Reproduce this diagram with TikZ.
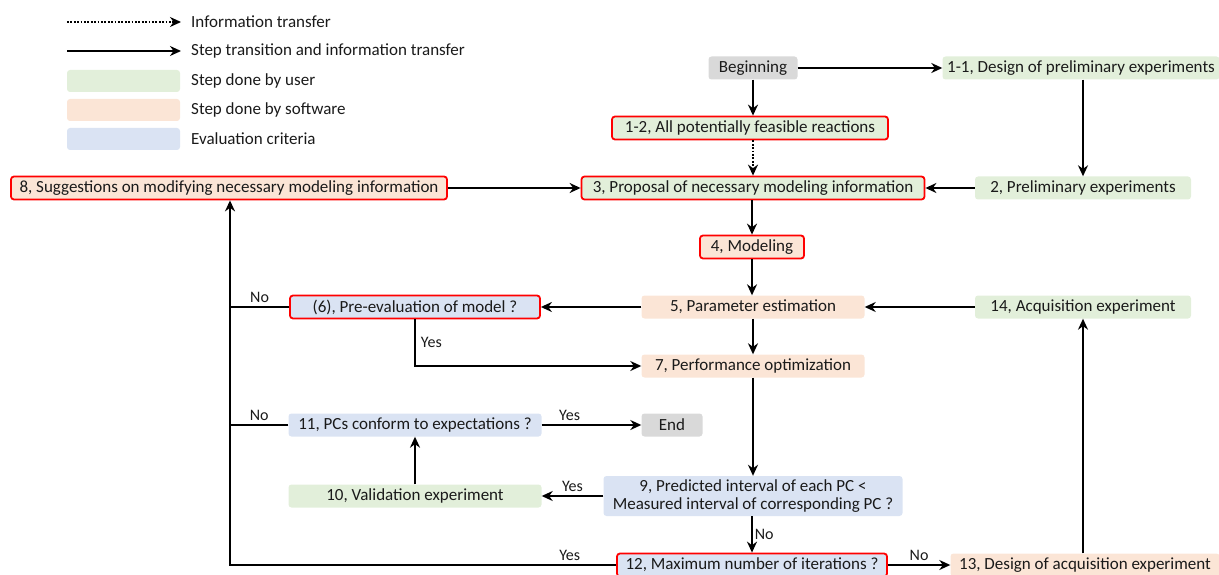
\documentclass[tikz,border=0pt]{standalone}
\usepackage{fontspec}
\setmainfont{Carlito}
\usetikzlibrary{arrows.meta}

\definecolor{usergreen}{HTML}{E2EFDA}
\definecolor{softorange}{HTML}{FBE5D6}
\definecolor{evalblue}{HTML}{DAE3F3}
\definecolor{termgray}{HTML}{D9D9D9}
\definecolor{keyred}{HTML}{FF0000}
\definecolor{inkdark}{HTML}{1A1A1A}

\tikzset{
  box/.style={rounded corners=3pt, minimum height=23pt, inner sep=2pt,
    font=\fontsize{17}{19}\selectfont, align=center, text=inkdark},
  user/.style={box, fill=usergreen},
  soft/.style={box, fill=softorange},
  crit/.style={box, fill=evalblue},
  term/.style={box, fill=termgray},
  key/.style={draw=keyred, line width=1.8pt},
  arr/.style={line width=1.8pt, -{Stealth[length=11pt,width=10pt]}},
  info/.style={arr, dash pattern=on 1.8pt off 1.6pt},
  plain/.style={line width=1.8pt},
  lbl/.style={font=\fontsize{16}{18}\selectfont, inner sep=2pt, text=inkdark},
  legtext/.style={anchor=west, font=\fontsize{17}{19}\selectfont, inner sep=0pt, text=inkdark}
}

\begin{document}
\begin{tikzpicture}[x=1pt, y=-1pt]
    \useasboundingbox (0,0) rectangle (1219,575);

    % legend
    \coordinate (l1a) at (67,22);
    \coordinate (l1b) at (181,22);
    \coordinate (l2a) at (67,51);
    \coordinate (l2b) at (181,51);
    \draw[info] (l1a) -- (l1b);
    \draw[arr] (l2a) -- (l2b);
    \node[legtext] (t1) at (191,22) {Information transfer};
    \node[legtext] (t2) at (191,51) {Step transition and information transfer};
    \node[user, minimum width=113pt, minimum height=22pt] (s1) at (123.5,81) {};
    \node[soft, minimum width=113pt, minimum height=22pt] (s2) at (123.5,110) {};
    \node[crit, minimum width=113pt, minimum height=22pt] (s3) at (123.5,139) {};
    \node[legtext] (t3) at (191,81) {Step done by user};
    \node[legtext] (t4) at (191,110) {Step done by software};
    \node[legtext] (t5) at (191,139) {Evaluation criteria};

    % steps
    \node[term, minimum width=89pt] (begin) at (753,68) {Beginning};
    \node[user, minimum width=277pt] (d11) at (1081,68) {1-1, Design of preliminary experiments};
    \node[user, key, minimum width=276pt] (feas) at (750,128) {1-2, All potentially feasible reactions};
    \node[user, key, minimum width=343pt] (prop) at (753,188) {3, Proposal of necessary modeling information};
    \node[user, minimum width=216pt] (prelim) at (1083,188) {2, Preliminary experiments};
    \node[soft, key, minimum width=436pt] (sugg) at (229,188) {8, Suggestions on modifying necessary modeling information};
    \node[soft, key, minimum width=104pt] (model) at (752,247) {4, Modeling};
    \node[soft, minimum width=223pt] (param) at (753,307) {5, Parameter estimation};
    \node[user, minimum width=216pt] (acq) at (1083,307) {14, Acquisition experiment};
    \node[crit, key, minimum width=250pt] (preeval) at (415,307) {(6), Pre-evaluation of model ?};
    \node[soft, minimum width=223pt] (perf) at (753,366) {7, Performance optimization};
    \node[crit, minimum width=253pt] (pcs) at (415,425) {11, PCs conform to expectations ?};
    \node[term, minimum width=61pt] (endn) at (672,425) {End};
    \node[user, minimum width=253pt] (valid) at (415,496) {10, Validation experiment};
    \node[crit, minimum width=299pt, minimum height=40pt, inner sep=1pt] (pic) at (753,496)
        {9, Predicted interval of each PC <\\[-1pt]Measured interval of corresponding PC ?};
    \node[crit, key, minimum width=270pt] (maxit) at (752,565) {12, Maximum number of iterations ?};
    \node[soft, minimum width=269pt] (acqd) at (1085,565) {13, Design of acquisition experiment};

    \coordinate (loop) at (230,565);

    % connectors
    \draw[arr] (begin) -- (d11);
    \draw[arr] (begin) -- (begin |- feas.north);
    \draw[info] (begin |- feas.south) -- (begin |- prop.north);
    \draw[arr] (d11.south -| prelim) -- (prelim);
    \draw[arr] (prelim) -- (prop);
    \draw[arr] (sugg) -- (prop);
    \draw[arr] (prop.south -| model) -- (model);
    \draw[arr] (model) -- (param.north -| model);
    \draw[arr] (param) -- (perf);
    \draw[arr] (acq) -- (param);
    \draw[arr] (param) -- (preeval);
    \draw[arr] (preeval.south) |- (perf.west) node[lbl, pos=0.25, right=3pt] {Yes};
    \draw[arr] (perf) -- (pic);
    \draw[arr] (pic) -- (valid) node[lbl, midway, above=1pt] {Yes};
    \draw[arr] (valid) -- (pcs);
    \draw[arr] (pcs) -- (endn) node[lbl, pos=0.28, above=1pt] {Yes};
    \draw[arr] (pic.south -| maxit) -- (maxit) node[lbl, midway, right] {No};
    \draw[arr] (maxit) -- (acqd) node[lbl, midway, above=1pt] {No};
    \draw[arr] (acqd.north -| acq) -- (acq);
    \draw[arr] (maxit) -- (loop) node[lbl, pos=0.12, above=1pt] {Yes} -- (loop |- sugg.south);
    \draw[plain] (preeval) -- (preeval -| loop) node[lbl, midway, above=1pt] {No};
    \draw[plain] (pcs) -- (pcs -| loop) node[lbl, midway, above=1pt] {No};
\end{tikzpicture}
\end{document}
